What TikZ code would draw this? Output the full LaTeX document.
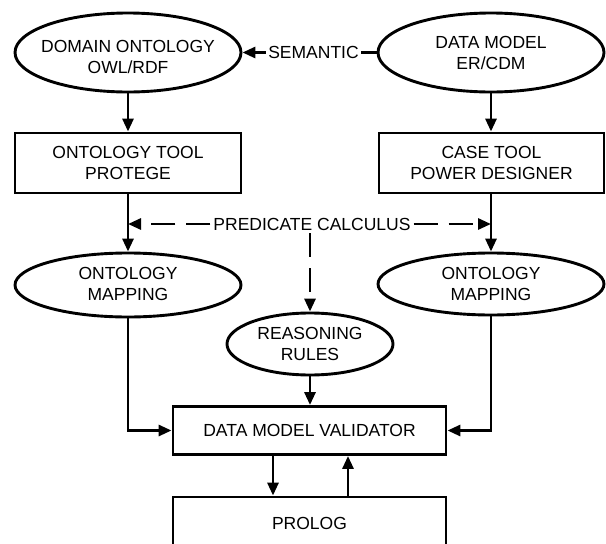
\documentclass[tikz,border=0pt]{standalone}
\usepackage{fontspec}
\setmainfont{Liberation Sans}
\usetikzlibrary{arrows.meta,shapes.geometric,calc}
\begin{document}
\begin{tikzpicture}[x=1pt,y=-1pt,
  font=\fontsize{17.5}{21}\selectfont,
  ln/.style={line width=2.9pt},
  ell/.style={ellipse,draw,ln,inner sep=0pt},
  box/.style={rectangle,draw,ln,align=center,inner sep=0pt},
  conn/.style={ln,-{Triangle[length=13pt,width=11pt]}},
  dsh/.style={conn,dash pattern=on 24pt off 11pt},
  lbl/.style={align=center,inner sep=0pt}]
\clip (0,0) rectangle (606,544);
% top ellipses
\node[ell,minimum width=226pt,minimum height=79pt] (dom) at (128,52.5) {};
\node[lbl] (domt) at (128,57) {DOMAIN ONTOLOGY\\OWL/RDF};
\node[ell,minimum width=226pt,minimum height=79pt] (dm) at (491,52.5) {};
\node[lbl] (dmt) at (491,52.5) {DATA MODEL\\ER/CDM};
% tool boxes
\node[box,minimum width=226pt,minimum height=60pt] (ont) at (128,163) {ONTOLOGY TOOL\\PROTEGE};
\node[box,minimum width=225pt,minimum height=60pt] (case) at (491.5,163) {CASE TOOL\\POWER DESIGNER};
% mapping ellipses
\node[ell,minimum width=226pt,minimum height=64pt] (map1) at (128,285) {};
\node[lbl] (map1t) at (128,284) {ONTOLOGY\\MAPPING};
\node[ell,minimum width=226pt,minimum height=62pt] (map2) at (491,284) {};
\node[lbl] (map2t) at (491,284) {ONTOLOGY\\MAPPING};
% reasoning rules
\node[ell,minimum width=166pt,minimum height=62pt] (rr) at (310,344) {};
\node[lbl] (rrt) at (310,344) {REASONING\\RULES};
% validator and prolog
\node[box,minimum width=273pt,minimum height=48pt] (val) at (309.5,430.5) {DATA MODEL VALIDATOR};
\node[box,minimum width=273pt,minimum height=52pt] (pro) at (309.5,523) {PROLOG};
% predicate calculus label
\node[inner sep=3pt] (pc) at (312,224) {PREDICATE CALCULUS};
% connectors
\draw[conn] (dm.west) -- node[pos=0.47,fill=white,inner sep=2pt] (sem) {SEMANTIC} (dom.east);
\draw[conn] (dom.south) -- (ont.north);
\draw[conn] (dm.south) -- (dm.south |- case.north);
\draw[conn] (ont.south) -- (map1.north);
\draw[conn] (case.south -| map2.north) -- (map2.north);
\draw[dsh] (pc.west) -- (pc.west -| ont.south);
\draw[dsh] (pc.east) -- (pc.east -| map2.north);
\draw[dsh] (pc.south -| rr.north) -- (rr.north);
\draw[conn] (map1.south) |- (val.west);
\draw[conn] (map2.south) |- (val.east);
\draw[conn] (rr.south) -- (rr.south |- val.north);
\coordinate (dx) at (273,0);
\coordinate (ux) at (348,0);
\draw[conn] (val.south -| dx) -- (pro.north -| dx);
\draw[conn] (pro.north -| ux) -- (val.south -| ux);
\end{tikzpicture}
\end{document}
